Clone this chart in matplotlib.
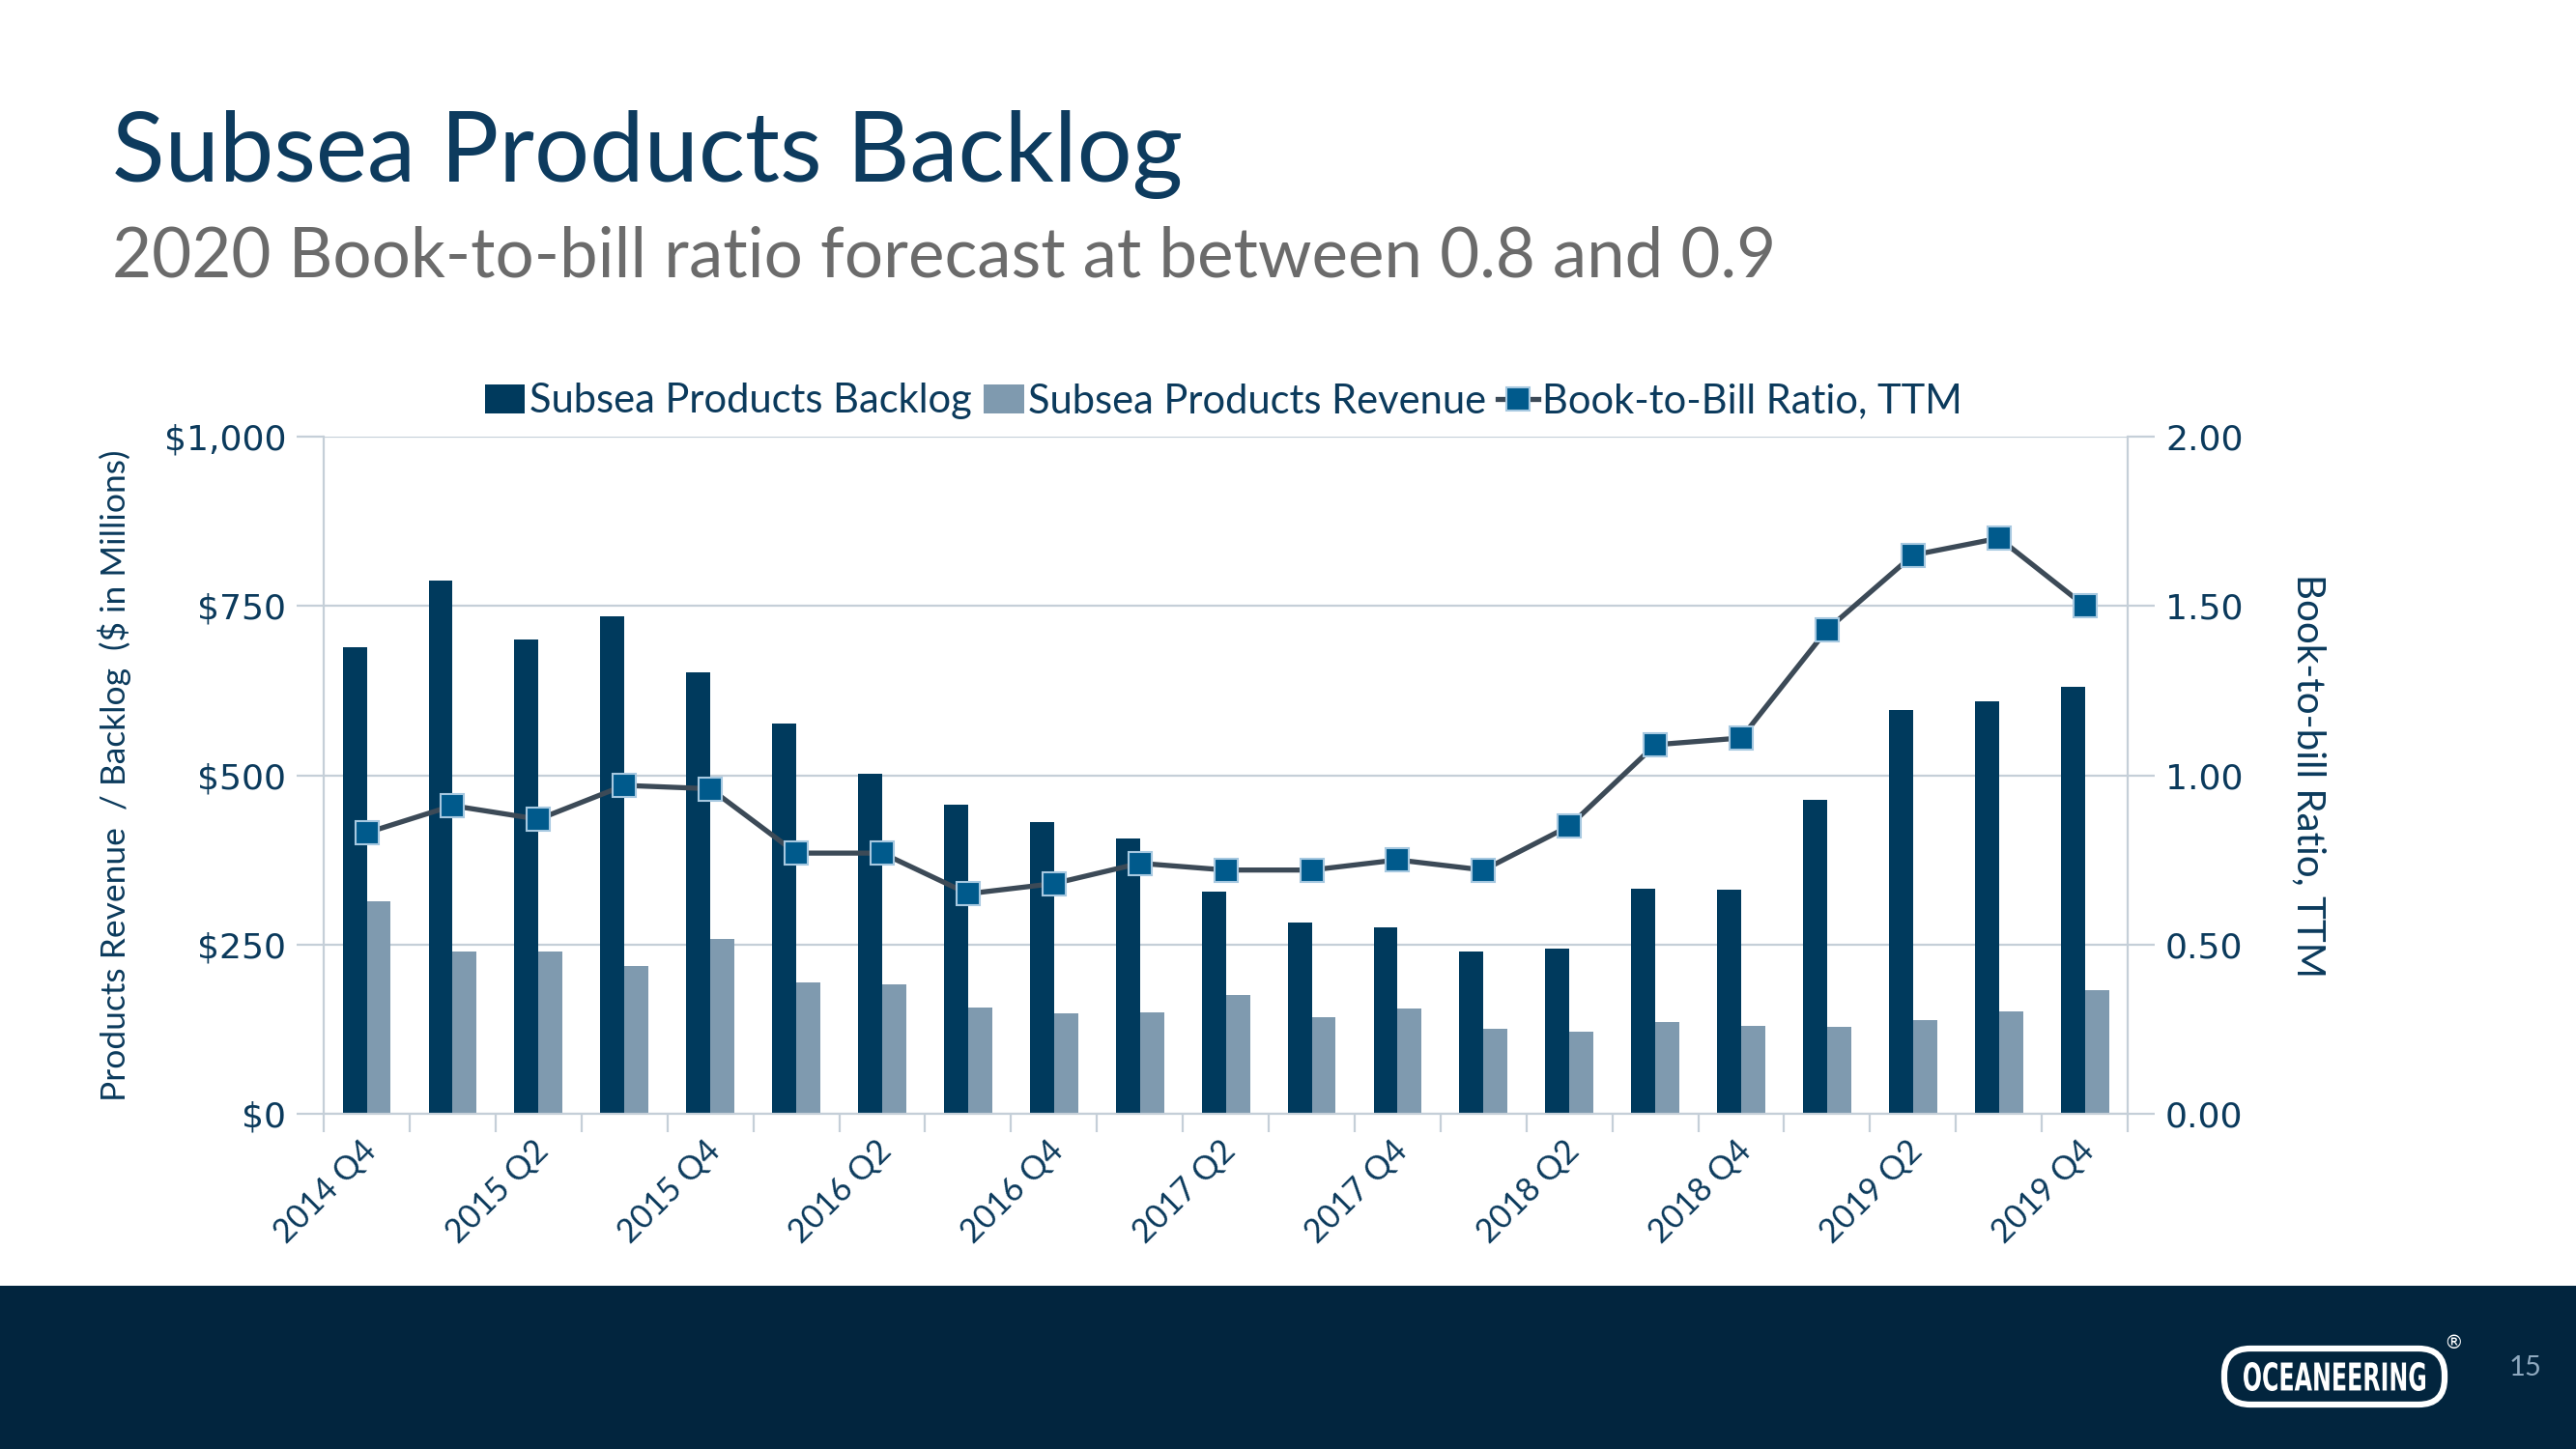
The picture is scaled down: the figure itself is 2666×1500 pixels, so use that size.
import matplotlib
matplotlib.use("Agg")
import matplotlib.pyplot as plt
import matplotlib.transforms as mtransforms
from matplotlib.patches import FancyBboxPatch, Rectangle, PathPatch
from matplotlib.textpath import TextPath
from matplotlib.font_manager import FontProperties
from matplotlib.ticker import FuncFormatter
import numpy as np

# ── PALETTE ────────────────────────────────────────────────
NAVY      = "#003A5D"
STEEL     = "#7F9AAF"
LINE      = "#3C4A57"
MARKER    = "#005A8C"
MARK_EDGE = "#A6C8E0"
GRID      = "#C5CFD8"
TEXT      = "#0B3A5C"
GREY_TXT  = "#6B6B6B"
BAND      = "#02253E"

# ── DATA ───────────────────────────────────────────────────
quarters = ["2014 Q4", "2015 Q1", "2015 Q2", "2015 Q3", "2015 Q4",
            "2016 Q1", "2016 Q2", "2016 Q3", "2016 Q4",
            "2017 Q1", "2017 Q2", "2017 Q3", "2017 Q4",
            "2018 Q1", "2018 Q2", "2018 Q3", "2018 Q4",
            "2019 Q1", "2019 Q2", "2019 Q3", "2019 Q4"]
backlog = [689, 788, 701, 735, 652, 577, 502, 456, 431, 407, 328,
           283, 276, 240, 244, 333, 331, 464, 596, 609, 630]
revenue = [314, 240, 240, 219, 258, 194, 191, 157, 149, 150, 175,
           143, 155, 125, 121, 136, 130, 129, 138, 151, 183]
ratio = [0.83, 0.91, 0.87, 0.97, 0.96, 0.77, 0.77, 0.65, 0.68, 0.74, 0.72,
         0.72, 0.75, 0.72, 0.85, 1.09, 1.11, 1.43, 1.65, 1.70, 1.50]
left_ticks = [0, 250, 500, 750, 1000]
right_ticks = [0.0, 0.5, 1.0, 1.5, 2.0]

LABEL_FONT = ["Lato", "DejaVu Sans"]

fig = plt.figure(figsize=(26.66, 15), dpi=100)
fig.patch.set_facecolor("white")

# ── HEADER ─────────────────────────────────────────────────
fig.text(0.0435, 0.875, "Subsea Products Backlog", fontsize=72.5,
         color="#0D3B5E", family=LABEL_FONT, va="baseline")
fig.text(0.0435, 0.809, "2020 Book-to-bill ratio forecast at between 0.8 and 0.9",
         fontsize=51, color=GREY_TXT, family=LABEL_FONT, va="baseline")

# ── CHART ──────────────────────────────────────────────────
ax = fig.add_axes([0.1257, 0.2313, 0.7003, 0.4674])
x = np.arange(len(quarters))
w = 0.28
b1 = ax.bar(x - w / 2, backlog, width=w, color=NAVY, label="Subsea Products Backlog", zorder=2)
b2 = ax.bar(x + w / 2, revenue, width=w, color=STEEL, label="Subsea Products Revenue", zorder=2)

ax.set_xlim(-0.5, len(quarters) - 0.5)
ax.set_ylim(0, 1000)
ax.set_yticks(left_ticks)
ax.yaxis.set_major_formatter(FuncFormatter(lambda v, p: f"${v:,.0f}"))
ax.grid(axis="y", color=GRID, linewidth=1.6, zorder=0)
ax.set_axisbelow(True)

for s in ["top", "right"]:
    ax.spines[s].set_visible(False)
for s in ["left", "bottom"]:
    ax.spines[s].set_color(GRID)
    ax.spines[s].set_linewidth(1.6)

ax.tick_params(axis="y", length=20, width=1.6, color=GRID, pad=8,
               labelsize=26, labelcolor=TEXT)
# category labels every other quarter, tick marks at category boundaries
ax.set_xticks(x[::2])
ax.set_xticklabels(quarters[::2], rotation=45, ha="right", va="center",
                   rotation_mode="anchor", fontsize=24.5, color=TEXT,
                   family=LABEL_FONT)
ax.tick_params(axis="x", length=0, pad=24)
shift = mtransforms.ScaledTranslation(0.05, 0, fig.dpi_scale_trans)
for lbl in ax.get_xticklabels():
    lbl.set_transform(lbl.get_transform() + shift)
ax.set_xticks(np.arange(-0.5, len(quarters)), minor=True)
ax.tick_params(axis="x", which="minor", length=14, width=1.6, color=GRID)

ax.set_ylabel("Products Revenue  / Backlog  ($ in Millions)", fontsize=25.5,
              color=TEXT, family=LABEL_FONT, labelpad=24)

ax2 = ax.twinx()
ln, = ax2.plot(x, ratio, color=LINE, linewidth=3.8, marker="s", markersize=17,
               markerfacecolor=MARKER, markeredgecolor=MARK_EDGE,
               markeredgewidth=1.5, label="Book-to-Bill Ratio, TTM", zorder=3)
ax2.set_ylim(0, 2)
ax2.set_yticks(right_ticks)
ax2.yaxis.set_major_formatter(FuncFormatter(lambda v, p: f"{v:.2f}"))
for s in ["top", "left", "bottom"]:
    ax2.spines[s].set_visible(False)
ax2.spines["right"].set_color(GRID)
ax2.spines["right"].set_linewidth(1.6)
ax2.tick_params(axis="y", length=20, width=1.6, color=GRID, pad=8,
                labelsize=26, labelcolor=TEXT)
ax2.set_ylabel("Book-to-bill Ratio, TTM", fontsize=29, color=TEXT,
               family=LABEL_FONT, rotation=-90, labelpad=62)

leg = fig.legend(handles=[b1, b2, ln], loc="center", bbox_to_anchor=(0.475, 0.723),
                 ncol=3, frameon=False, handlelength=1.0,
                 handletextpad=0.1, columnspacing=0.3,
                 prop={"family": LABEL_FONT, "size": 30})
for t in leg.get_texts():
    t.set_color(TEXT)

# ── FOOTER BAND ────────────────────────────────────────────
fig.patches.append(Rectangle((0, 0), 1, 0.1127, transform=fig.transFigure,
                             facecolor=BAND, edgecolor="none", zorder=-1))

# logo drawn in a pixel-unit axes so the pill shape keeps its aspect
lx0, ly0, lw, lh = 2290, 35, 250, 80
lax = fig.add_axes([lx0 / 2666, ly0 / 1500, lw / 2666, lh / 1500])
lax.set_zorder(5)
lax.set_xlim(0, lw)
lax.set_ylim(0, lh)
lax.axis("off")
lax.add_patch(FancyBboxPatch((12, 11), 228, 58,
                             boxstyle="round,pad=0,rounding_size=27",
                             facecolor=BAND, edgecolor="white", linewidth=4.5))
tp = TextPath((0, 0), "OCEANEERING", size=40,
              prop=FontProperties(family="DejaVu Sans", weight="bold"))
bb = tp.get_extents()
sx = 188 / bb.width
sy = 30 / bb.height
tr = (mtransforms.Affine2D().translate(-bb.x0 - bb.width / 2, -bb.y0 - bb.height / 2)
      .scale(sx, sy).translate(126, 40))
lax.add_patch(PathPatch(tr.transform_path(tp), facecolor="white", edgecolor="none"))
fig.text(0.9525, 0.0730, "®", fontsize=14, color="white",
         family=["DejaVu Sans"], ha="center", va="center")
fig.text(0.9805, 0.0560, "15", fontsize=21, color="#8FA9BF",
         family=LABEL_FONT, ha="center", va="center")

plt.savefig("out.png", dpi=100, facecolor=fig.get_facecolor())
print("Saved: out.png")
